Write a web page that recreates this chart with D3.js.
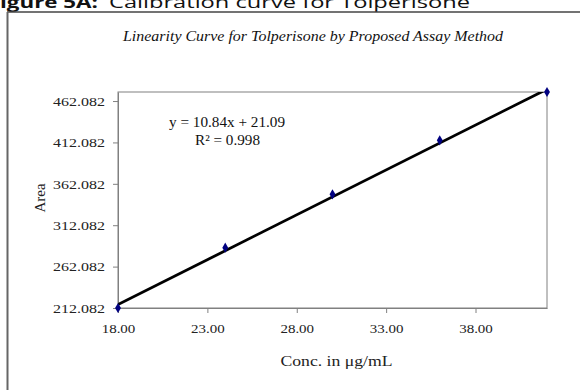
<!DOCTYPE html>
<html><head><meta charset="utf-8">
<script src="https://cdn.jsdelivr.net/npm/d3@7"></script>
<style>html,body{margin:0;padding:0;background:#fff;overflow:hidden}</style>
</head><body>
<svg id="c" width="580" height="390"></svg>
<script>
const concentrations = [18, 24, 30, 36, 42];
const areas = [212.082, 285.0, 349.4, 414.6, 473.0];
const xTicks = [18, 23, 28, 33, 38];
const yTicks = [212.082, 262.082, 312.082, 362.082, 412.082, 462.082];
const xDomain = [18, 42];
const yDomain = [212.082, 473.0];
const slope = 10.84, intercept = 21.09, r2 = 0.998;

const svg = d3.select("#c");
const m = {l: 118, r: 547, t: 92, b: 308};
const x = d3.scaleLinear().domain(xDomain).range([m.l, m.r]);
const y = d3.scaleLinear().domain(yDomain).range([m.b, m.t]);

function fit(sel, len) {
  sel.attr("textLength", len).attr("lengthAdjust", "spacingAndGlyphs");
}

// figure caption
const capFont = "'Open Sans', Lato, sans-serif";
const capReg = svg.append("text").attr("x", 109).attr("y", 7.5).attr("font-family", capFont)
  .attr("font-size", 15.5).attr("fill", "#111").text("Calibration curve for Tolperisone");
const k = 361 / capReg.node().getBBox().width;
fit(capReg, 361);
const tmp = svg.append("text").attr("font-family", capFont).attr("font-size", 15.5).attr("font-weight", "bold").text("igure 5A:");
const natTail = tmp.node().getBBox().width;
tmp.text("Figure 5A:");
const natFull = tmp.node().getBBox().width;
tmp.remove();
const kb = 98 / natTail;
svg.append("text").attr("x", 0).attr("y", 7.5).attr("font-family", capFont)
  .attr("font-size", 15.5).attr("font-weight", "bold").attr("fill", "#111")
  .attr("transform", `translate(${98 - natFull * kb},0) scale(${kb},1)`)
  .text("Figure 5A:");

// outer frame
svg.append("line").attr("x1", 7).attr("x2", 580).attr("y1", 12).attr("y2", 12).attr("stroke", "#444").attr("stroke-width", 1.5);
svg.append("line").attr("x1", 7.5).attr("x2", 7.5).attr("y1", 12).attr("y2", 390).attr("stroke", "#666").attr("stroke-width", 2);

// chart title
const t = svg.append("text").attr("x", 123).attr("y", 41).attr("font-family", "'Liberation Serif', serif")
  .attr("font-style", "italic").attr("font-size", 15).attr("fill", "#111")
  .text("Linearity Curve for Tolperisone by Proposed  Assay Method");
fit(t, 380);

// plot border
svg.append("rect").attr("x", m.l).attr("y", m.t).attr("width", m.r - m.l).attr("height", m.b - m.t)
  .attr("fill", "none").attr("stroke", "#808080").attr("stroke-width", 1);

// axes
const xAxis = d3.axisBottom(x).tickValues(xTicks).tickFormat(d3.format(".2f")).tickSize(5).tickSizeOuter(0).tickPadding(5);
const gx = svg.append("g").attr("transform", `translate(0,${m.b})`).call(xAxis);
const yAxis = d3.axisLeft(y).tickValues(yTicks).tickFormat(d => d.toFixed(3)).tickSize(5).tickSizeOuter(0).tickPadding(8);
const gy = svg.append("g").attr("transform", `translate(${m.l},0)`).call(yAxis);
[gx, gy].forEach(g => {
  g.select(".domain").attr("stroke", "#808080");
  g.selectAll(".tick line").attr("stroke", "#808080");
  g.selectAll("text").attr("font-family", "'Liberation Serif', serif").attr("font-size", 13.5).attr("fill", "#222");
});
gx.selectAll("text").each(function(){
  const s = 34 / this.getBBox().width;
  d3.select(this).attr("y", 0).attr("dy", 0).attr("transform", `translate(0,25) scale(${s},1)`);
});
gy.selectAll("text").each(function(){
  const s = 52 / this.getBBox().width;
  d3.select(this).attr("x", 0).attr("transform", `translate(-13,0) scale(${s},1)`);
});

// axis titles
const xt = svg.append("text").attr("x", (m.l + m.r) / 2 + 4).attr("y", 366).attr("text-anchor", "middle")
  .attr("font-family", "'Liberation Serif', serif").attr("font-size", 15).attr("fill", "#222").text("Conc. in μg/mL");
fit(xt, 112);
const yt = svg.append("text").attr("transform", `translate(45,${(m.t + m.b) / 2 - 2}) rotate(-90)`).attr("text-anchor", "middle")
  .attr("font-family", "'Liberation Serif', serif").attr("font-size", 15).attr("fill", "#222").text("Area");

// clip
svg.append("clipPath").attr("id", "pc").append("rect").attr("x", m.l).attr("y", m.t).attr("width", m.r - m.l).attr("height", m.b - m.t);

// trendline
const trend = xDomain.map(v => [v, slope * v + intercept]);
svg.append("path").datum(trend).attr("clip-path", "url(#pc)")
  .attr("d", d3.line().x(d => x(d[0])).y(d => y(d[1])))
  .attr("stroke", "#000").attr("stroke-width", 2.8).attr("fill", "none");

// points
const pts = concentrations.map((c, i) => [c, areas[i]]);
svg.append("g").selectAll("path").data(pts).join("path")
  .attr("transform", d => `translate(${x(d[0])},${y(d[1])})`)
  .attr("d", d3.symbol(d3.symbolDiamond, 30))
  .attr("fill", "#000080");

// equation
const eq = svg.append("text").attr("x", 169).attr("y", 127).attr("font-family", "'Liberation Serif', serif")
  .attr("font-size", 14).attr("fill", "#111").text(`y = ${slope}x + ${intercept}`);
fit(eq, 116);
const r = svg.append("text").attr("x", 195).attr("y", 145).attr("font-family", "'Liberation Serif', serif")
  .attr("font-size", 14).attr("fill", "#111").text(`R² = ${r2}`);
fit(r, 65);
</script>
</body></html>
